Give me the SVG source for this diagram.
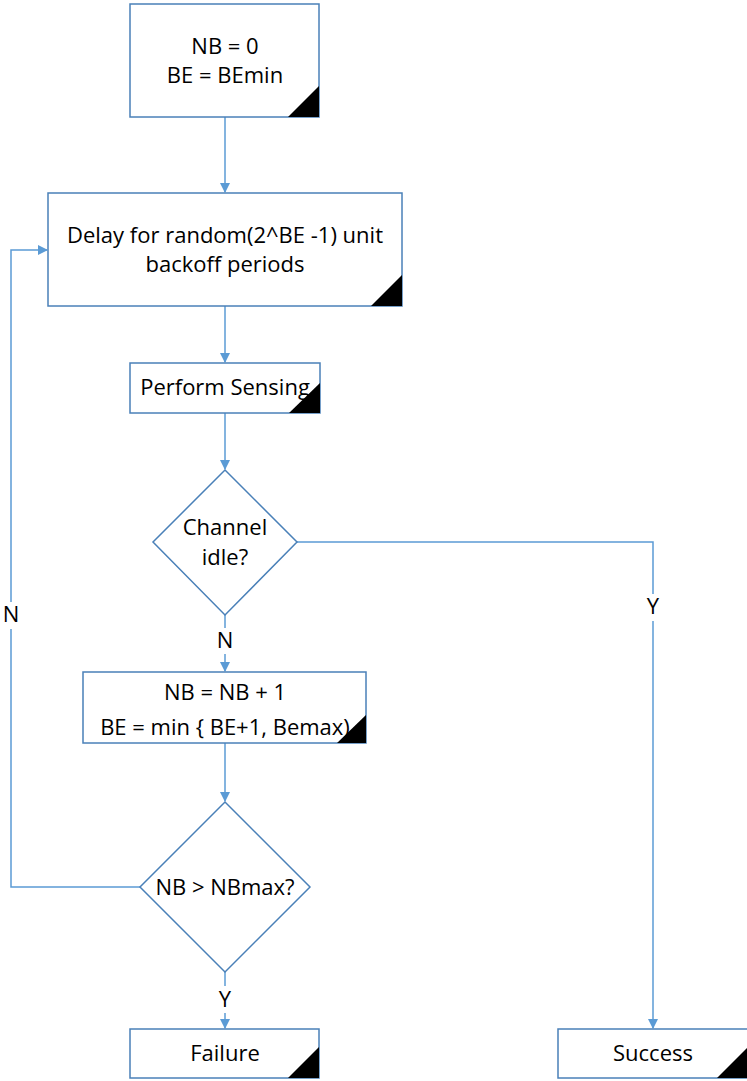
<svg xmlns="http://www.w3.org/2000/svg" width="747" height="1081" viewBox="0 0 747 1081">
<style>
.box{fill:#fff;stroke:#4a80b8;stroke-width:1.5}
.tri{fill:#000}
.t{font-family:"Open Sans","Liberation Sans",Arial,sans-serif;font-size:22px;fill:#000;text-anchor:middle}
.c{fill:none;stroke:#5b9bd5;stroke-width:1.5}
</style>
<defs>
<marker id="ah" markerWidth="10" markerHeight="10" refX="9" refY="5" orient="auto" markerUnits="userSpaceOnUse">
<path d="M0,0 L10,5 L0,10 z" fill="#5b9bd5"/>
</marker>
</defs>
<rect width="747" height="1081" fill="#fff"/>
<g id="connectors">
<path class="c" d="M225,117 V192" marker-end="url(#ah)"/>
<path class="c" d="M225,306 V362" marker-end="url(#ah)"/>
<path class="c" d="M225,413 V469" marker-end="url(#ah)"/>
<path class="c" d="M225,615 V628"/>
<path class="c" d="M225,654 V671" marker-end="url(#ah)"/>
<path class="c" d="M225,743 V801" marker-end="url(#ah)"/>
<path class="c" d="M225,972 V986"/>
<path class="c" d="M225,1013 V1028" marker-end="url(#ah)"/>
<path class="c" d="M297,542 H653 V594"/>
<path class="c" d="M653,621 V1028" marker-end="url(#ah)"/>
<path class="c" d="M140,887 H11 V629"/>
<path class="c" d="M11,602 V250 H47" marker-end="url(#ah)"/>
<text class="t" x="225" y="648">N</text>
<text class="t" x="225" y="1007">Y</text>
<text class="t" x="653" y="614">Y</text>
<text class="t" x="11" y="622">N</text>
</g>
<g id="n1">
<rect class="box" x="130" y="4" width="189" height="113"/>
<path class="tri" d="M319,86 V117 H288 z"/>
<text class="t" x="225" y="54">NB = 0</text>
<text class="t" x="225" y="83">BE = BEmin</text>
</g>
<g id="n2">
<rect class="box" x="48" y="193" width="354" height="113"/>
<path class="tri" d="M402,275 V306 H371 z"/>
<text class="t" x="225" y="243">Delay for random(2^BE -1) unit</text>
<text class="t" x="225" y="272">backoff periods</text>
</g>
<g id="n3">
<rect class="box" x="130" y="363" width="190" height="50"/>
<path class="tri" d="M320,383 V413 H289 z"/>
<text class="t" x="225" y="395">Perform Sensing</text>
</g>
<g id="n4">
<path class="box" d="M225,470 L297,542 L225,615 L153,542 z"/>
<text class="t" x="225" y="535">Channel</text>
<text class="t" x="225" y="565">idle?</text>
</g>
<g id="n5">
<rect class="box" x="83" y="672" width="283" height="71"/>
<path class="tri" d="M366,715 V743 H337 z"/>
<text class="t" x="225" y="700">NB = NB + 1</text>
<text class="t" x="225" y="735">BE = min { BE+1, Bemax)</text>
</g>
<g id="n6">
<path class="box" d="M225,802 L310,887 L225,972 L140,887 z"/>
<text class="t" x="225" y="895">NB &gt; NBmax?</text>
</g>
<g id="n7">
<rect class="box" x="130" y="1029" width="189" height="49"/>
<path class="tri" d="M319,1047 V1078 H288 z"/>
<text class="t" x="225" y="1061">Failure</text>
</g>
<g id="n8">
<rect class="box" x="558" y="1029" width="190" height="49"/>
<path class="tri" d="M748,1047 V1078 H717 z"/>
<text class="t" x="653" y="1061">Success</text>
</g>
</svg>
